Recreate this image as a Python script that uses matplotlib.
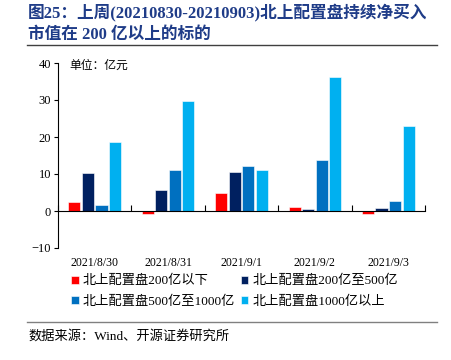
import numpy as np
import matplotlib
matplotlib.use("Agg")
import matplotlib.pyplot as plt
import matplotlib.transforms as mtransforms

plt.rcParams['font.family'] = ['Liberation Serif', 'Noto Sans CJK SC']

dates = ["2021/8/30", "2021/8/31", "2021/9/1", "2021/9/2", "2021/9/3"]
series_names = ["北上配置盘200亿以下", "北上配置盘200亿至500亿",
                "北上配置盘500亿至1000亿", "北上配置盘1000亿以上"]
below_200 = [2.5, -0.9, 4.8, 1.2, -0.7]
from_200_to_500 = [10.2, 5.6, 10.5, 0.5, 0.9]
from_500_to_1000 = [1.7, 11.1, 12.1, 13.7, 2.8]
above_1000 = [18.7, 29.6, 11.1, 36.1, 22.9]
colors = ["#FF0000", "#002060", "#0070C0", "#00B0F0"]

title_color = "#1F3C88"
cjk = ['Liberation Serif', 'Noto Sans CJK SC']

fig = plt.figure(figsize=(4.51, 3.60), dpi=100)
ax = fig.add_axes([58 / 451, 1 - 248 / 360, (425 - 58) / 451, (248 - 63) / 360])

x = np.arange(len(dates))
width = 0.165
step = 0.184
all_series = [below_200, from_200_to_500, from_500_to_1000, above_1000]
bars = []
for i, (vals, c, name) in enumerate(zip(all_series, colors, series_names)):
    b = ax.bar(x + (i - 1.5) * step, vals, width=width, color=c, label=name,
               edgecolor="white", linewidth=0.4)
    bars.append(b)

ax.set_xlim(-0.5, len(dates) - 0.5)
ax.set_ylim(-10, 40)
ax.set_yticks([-10, 0, 10, 20, 30, 40])
ax.tick_params(axis="y", direction="out", length=3, width=0.8, labelsize=9, pad=2)

ax.spines["top"].set_visible(False)
ax.spines["right"].set_visible(False)
ax.spines["bottom"].set_position(("data", 0))
ax.spines["left"].set_linewidth(0.8)
ax.spines["bottom"].set_linewidth(0.8)

# boundary ticks on the zero line, labels at the bottom
ax.set_xticks(np.arange(-0.5, len(dates), 1.0))
ax.set_xticklabels([])
ax.tick_params(axis="x", direction="in", length=4, width=0.8)
trans = mtransforms.blended_transform_factory(ax.transData, ax.transAxes)
for xi, d in zip(x, dates):
    ax.text(xi, -15 / 185, d, transform=trans, ha="center", va="center", fontsize=8.5)

ax.text(0.03, 0.985, "单位：亿元", transform=ax.transAxes, ha="left", va="center",
        fontsize=8.5, family=['Noto Sans CJK SC'])

# row-major legend order
order = [0, 2, 1, 3]
leg = ax.legend([bars[i] for i in order], [series_names[i] for i in order],
                loc="upper left", bbox_to_anchor=(71 / 451, 1 - 275 / 360),
                bbox_transform=fig.transFigure, ncol=2, frameon=False,
                fontsize=9.5, handlelength=0.6, handleheight=0.6,
                handletextpad=0.3, columnspacing=0.4, labelspacing=0.6,
                borderaxespad=0, borderpad=0)

fig.text(28 / 451, 1 - 12 / 360, "图25：上周(20210830-20210903)北上配置盘持续净买入",
         ha="left", va="center", fontsize=12, fontweight="bold", color=title_color,
         family=cjk)
fig.text(28 / 451, 1 - 35 / 360, "市值在 200 亿以上的标的",
         ha="left", va="center", fontsize=12, fontweight="bold", color=title_color,
         family=cjk)
fig.add_artist(plt.Line2D([27 / 451, 437 / 451], [1 - 45 / 360, 1 - 45 / 360],
                          color="#404040", linewidth=1.0, transform=fig.transFigure))
fig.add_artist(plt.Line2D([27 / 451, 437 / 451], [1 - 322 / 360, 1 - 322 / 360],
                          color="#808080", linewidth=1.0, transform=fig.transFigure))
fig.text(28 / 451, 1 - 336 / 360, "数据来源：Wind、开源证券研究所",
         ha="left", va="center", fontsize=9.5, family=cjk)

fig.savefig("out.png", dpi=100)
